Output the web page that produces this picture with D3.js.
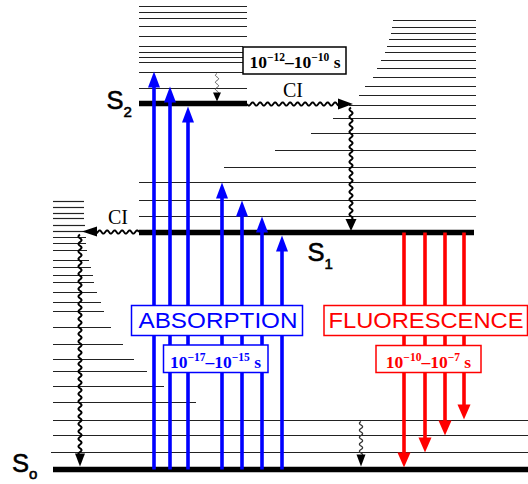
<!DOCTYPE html>
<html>
<head>
<meta charset="utf-8">
<script src="https://cdn.jsdelivr.net/npm/d3@7"></script>
<style>
  body { margin: 0; background: #fff; }
  svg { display: block; }
</style>
</head>
<body>
<div id="chart"></div>
<script>
// Energies in arbitrary units, S0 = 0
const electronicNames = ["S", "S", "S"];
const electronicSubs = ["o", "1", "2"];
const electronicEnergy = [0, 237, 366];
const electronicFrom = [53, 139, 139];
const electronicTo = [528, 474, 247];

// vibrational levels of S0 (left group, right end varies)
const s0Levels = [17, 34, 49, 67, 83, 98, 110, 125, 142, 158, 167, 177, 187, 194, 202, 209, 219, 226, 232, 238, 244, 251, 256, 262, 268];
const s0Ends = [528, 528, 528, 196, 164, 147, 134, 123, 111, 104, 101, 97, 94, 93, 91, 89, 87, 86, 86, 85, 85, 84, 84, 84, 84];

// vibrational levels of S1 (right group, left start varies)
const s1Levels = [253, 269, 287, 302, 319, 336, 351, 364, 374, 383, 392, 401, 409, 417, 423, 430, 436, 442, 449];
const s1Starts = [139, 139, 139, 224, 275, 311, 333, 349, 359, 365, 373, 377, 381, 385, 387, 389, 391, 392, 393];

// vibrational levels of S2
const s2Levels = [381, 397, 407, 412, 417, 423, 433, 443, 451, 457, 463];
const s2Ends = [247, 247, 243, 243, 243, 243, 247, 247, 247, 247, 247];

// absorption arrows (blue) and fluorescence arrows (red)
const absX = [154, 170, 188, 222, 242, 262, 282];
const absTip = [398, 383, 363, 287, 269, 253, 234];
const fluX = [404, 425, 445, 464];
const fluTip = [2, 17, 34, 50];

async function draw() {

  let dimensions = {
    width: 528,
    height: 484
  };

  const svg = d3.select("#chart")
    .append("svg")
    .attr("width", dimensions.width)
    .attr("height", dimensions.height)
    .attr("viewBox", `0 0 ${dimensions.width} ${dimensions.height}`);

  // Scales
  const xScale = d3.scaleLinear().domain([0, 528]).range([0, 528]);
  const yScale = d3.scaleLinear().domain([0, 470]).range([469.5, -0.5]);

  const ctr = svg.append("g");

  // helpers
  const wave = (x0, y0, x1, y1, amp, period) => {
    const len = Math.hypot(x1 - x0, y1 - y0);
    const ux = (x1 - x0) / len, uy = (y1 - y0) / len;
    const pts = d3.range(0, len + 0.01, 0.5).map(s => {
      const o = amp * Math.sin(2 * Math.PI * s / period);
      return [x0 + ux * s - uy * o, y0 + uy * s + ux * o];
    });
    return d3.line()(pts);
  };

  const head = (tx, ty, dx, dy, len, w) => {
    const bx = tx - dx * len, by = ty - dy * len;
    return `M${tx},${ty}L${bx - dy * w / 2},${by + dx * w / 2}L${bx + dy * w / 2},${by - dx * w / 2}Z`;
  };

  // Vibrational levels
  const thin = ctr.append("g")
    .attr("stroke", "#222")
    .attr("stroke-width", 1.2);

  thin.selectAll(".s0")
    .data(s0Levels)
    .join("line")
    .attr("x1", (d, i) => xScale(i === 0 ? 51 : 53))
    .attr("x2", (d, i) => xScale(s0Ends[i]))
    .attr("y1", d => yScale(d))
    .attr("y2", d => yScale(d));

  thin.selectAll(".s1")
    .data(s1Levels)
    .join("line")
    .attr("x1", (d, i) => xScale(s1Starts[i]))
    .attr("x2", xScale(476))
    .attr("y1", d => yScale(d))
    .attr("y2", d => yScale(d));

  thin.selectAll(".s2")
    .data(s2Levels)
    .join("line")
    .attr("x1", xScale(139))
    .attr("x2", (d, i) => xScale(s2Ends[i]))
    .attr("y1", d => yScale(d))
    .attr("y2", d => yScale(d));

  // Electronic states
  ctr.append("g")
    .selectAll("line")
    .data(electronicEnergy)
    .join("line")
    .attr("x1", (d, i) => xScale(electronicFrom[i]))
    .attr("x2", (d, i) => xScale(electronicTo[i]))
    .attr("y1", d => yScale(d))
    .attr("y2", d => yScale(d))
    .attr("stroke", "#000")
    .attr("stroke-width", 5.5);

  // Wavy (non radiative) arrows
  const wavy = ctr.append("g");
  const yS2 = yScale(electronicEnergy[2]);
  const yS1 = yScale(electronicEnergy[1]);
  const yS0 = yScale(electronicEnergy[0]);

  // CI  S2 -> S1
  wavy.append("path")
    .attr("d", wave(xScale(247), yS2 + 0.5, xScale(341), yS2 + 0.5, 1.6, 7.5))
    .attr("fill", "none").attr("stroke", "#000").attr("stroke-width", 1.9);
  wavy.append("path")
    .attr("d", head(xScale(353), yS2 + 0.5, 1, 0, 15, 11));
  wavy.append("path")
    .attr("d", wave(xScale(351), yS2 + 4, xScale(351), yS1 - 13, 1.6, 7.5))
    .attr("fill", "none").attr("stroke", "#000").attr("stroke-width", 1.9);
  wavy.append("path")
    .attr("d", head(xScale(351), yS1 - 1.5, 0, 1, 12, 11));

  // CI  S1 -> S0
  wavy.append("path")
    .attr("d", wave(xScale(139), yS1 - 0.5, xScale(95), yS1 - 0.5, 1.6, 7.5))
    .attr("fill", "none").attr("stroke", "#000").attr("stroke-width", 1.9);
  wavy.append("path")
    .attr("d", head(xScale(82), yS1 - 1, -1, 0, 15, 10));
  wavy.append("path")
    .attr("d", wave(xScale(80), yS1 + 2, xScale(80), yS0 - 15, 1.6, 7.5))
    .attr("fill", "none").attr("stroke", "#000").attr("stroke-width", 1.9);
  wavy.append("path")
    .attr("d", head(xScale(80), yS0 - 3, 0, 1, 13, 10));

  // vibrational relaxation
  wavy.append("path")
    .attr("d", wave(xScale(217), yScale(396), xScale(217), yS2 - 10, 1.6, 7))
    .attr("fill", "none").attr("stroke", "#555").attr("stroke-width", 1);
  wavy.append("path")
    .attr("d", head(xScale(217), yS2 - 2, 0, 1, 9, 8));
  wavy.append("path")
    .attr("d", wave(xScale(361), yScale(48), xScale(361), yS0 - 14, 1.6, 7))
    .attr("fill", "none").attr("stroke", "#333").attr("stroke-width", 1.2);
  wavy.append("path")
    .attr("d", head(xScale(361), yS0 - 3, 0, 1, 12, 9));

  // Absorption arrows
  const abs = ctr.append("g");
  abs.selectAll("line")
    .data(absX)
    .join("line")
    .attr("x1", d => xScale(d))
    .attr("x2", d => xScale(d))
    .attr("y1", yS0)
    .attr("y2", (d, i) => yScale(absTip[i]) + 12)
    .attr("stroke", "#0000ff")
    .attr("stroke-width", 3.6);
  abs.selectAll("path")
    .data(absX)
    .join("path")
    .attr("d", (d, i) => head(xScale(d), yScale(absTip[i]), 0, -1, 16, 12))
    .attr("fill", "#0000ff");

  // Fluorescence arrows
  const flu = ctr.append("g");
  flu.selectAll("line")
    .data(fluX)
    .join("line")
    .attr("x1", d => xScale(d))
    .attr("x2", d => xScale(d))
    .attr("y1", yS1)
    .attr("y2", (d, i) => yScale(fluTip[i]) - 10)
    .attr("stroke", "#ff0000")
    .attr("stroke-width", 3.6);
  flu.selectAll("path")
    .data(fluX)
    .join("path")
    .attr("d", (d, i) => head(xScale(d), yScale(fluTip[i]), 0, 1, 15, 13))
    .attr("fill", "#ff0000");

  // Boxes with labels
  const box = (x0, y0, x1, y1, color) => ctr.append("rect")
    .attr("x", x0).attr("y", y0)
    .attr("width", x1 - x0).attr("height", y1 - y0)
    .attr("fill", "#fff")
    .attr("stroke", color)
    .attr("stroke-width", 1.5);

  const timeLabel = (cx, baseline, a, b, color) => {
    const t = ctr.append("text")
      .attr("x", cx).attr("y", baseline)
      .attr("text-anchor", "middle")
      .attr("font-family", "'Liberation Serif', 'Times New Roman', serif")
      .attr("font-weight", "bold")
      .attr("font-size", 17.5)
      .attr("fill", color);
    t.append("tspan").text("10");
    t.append("tspan").attr("dy", -7).attr("font-size", 11.5).text("\u2212" + a);
    t.append("tspan").attr("dy", 7).text("\u201310");
    t.append("tspan").attr("dy", -7).attr("font-size", 11.5).text("\u2212" + b);
    t.append("tspan").attr("dy", 7).text(" s");
  };

  box(243, 47, 346, 74, "#000");
  timeLabel(295, 67.5, "12", "10", "#000");

  box(131.5, 305.5, 302.5, 335.5, "#0000ff");
  ctr.append("text")
    .attr("x", 138.5).attr("y", 327.5)
    .attr("font-family", "'Liberation Sans', Arial, sans-serif")
    .attr("font-size", 21.5)
    .attr("textLength", 159)
    .attr("lengthAdjust", "spacingAndGlyphs")
    .attr("fill", "#0000ff")
    .text("ABSORPTION");

  box(163.5, 345, 268, 372.5, "#0000ff");
  timeLabel(215.5, 368, "17", "15", "#0000ff");

  box(324, 305.5, 527.5, 335.5, "#ff0000");
  ctr.append("text")
    .attr("x", 328.5).attr("y", 327.5)
    .attr("font-family", "'Liberation Sans', Arial, sans-serif")
    .attr("font-size", 21.5)
    .attr("textLength", 195)
    .attr("lengthAdjust", "spacingAndGlyphs")
    .attr("fill", "#ff0000")
    .text("FLUORESCENCE");

  box(376, 345.5, 481, 372.5, "#ff0000");
  timeLabel(428.5, 368, "10", "7", "#ff0000");

  // CI labels
  const ciLabels = [[293, 96.5], [118, 223.5]];
  ctr.selectAll(".ci")
    .data(ciLabels)
    .join("text")
    .attr("x", d => d[0]).attr("y", d => d[1])
    .attr("text-anchor", "middle")
    .attr("font-family", "'Liberation Serif', 'Times New Roman', serif")
    .attr("font-size", 20)
    .attr("fill", "#000")
    .text("CI");

  // State labels
  const labelPos = [[12, 472], [307.5, 261], [106.5, 109]];
  const lab = ctr.selectAll(".state")
    .data(electronicEnergy)
    .join("text")
    .attr("x", (d, i) => labelPos[i][0])
    .attr("y", (d, i) => labelPos[i][1])
    .attr("font-family", "'Liberation Sans', Arial, sans-serif")
    .attr("font-size", 25.5)
    .attr("fill", "#000")
    .attr("stroke", "#000")
    .attr("stroke-width", 0.6);
  lab.append("tspan").text((d, i) => electronicNames[i]);
  lab.append("tspan")
    .attr("font-size", 15)
    .attr("dy", (d, i) => i === 0 ? 7 : 7.5)
    .text((d, i) => electronicSubs[i]);
}

draw();
</script>
</body>
</html>
